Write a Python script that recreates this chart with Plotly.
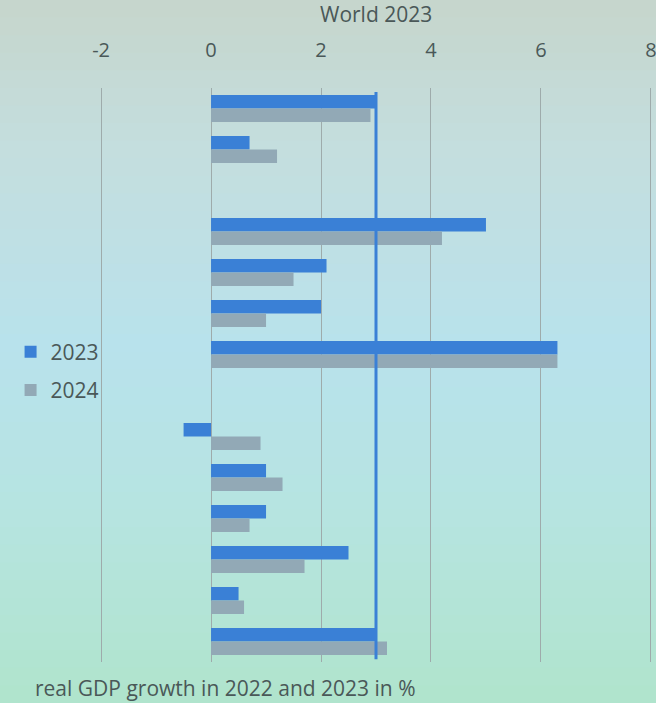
import plotly.graph_objects as go

categories = ["c1", "c2", "gap1", "c3", "c4", "c5", "c6", "gap2",
              "c7", "c8", "c9", "c10", "c11", "c12"]
growth_2023 = [3.0, 0.7, None, 5.0, 2.1, 2.0, 6.3, None,
               -0.5, 1.0, 1.0, 2.5, 0.5, 3.0]
growth_2024 = [2.9, 1.2, None, 4.2, 1.5, 1.0, 6.3, None,
               0.9, 1.3, 0.7, 1.7, 0.6, 3.2]
world_2023 = 3.0
x_ticks = [-2, 0, 2, 4, 6, 8]
x_tick_text = ["-2", "0", "2", "4", "6", "8"]

W, H = 656, 703
ML, MR, MT, MB = 100, 4, 88, 41

BLUE = "#3a80d6"
GREY = "#92a9b6"
TEXT = "#4a5858"
FONT = "Open Sans"

fig = go.Figure()
fig.add_trace(go.Bar(y=categories, x=growth_2023, orientation="h", name="2023",
                     legendgroup="a", marker=dict(color=BLUE, line=dict(width=0))))
fig.add_trace(go.Bar(y=categories, x=growth_2024, orientation="h", name="2024",
                     legendgroup="b", marker=dict(color=GREY, line=dict(width=0))))

# background gradient bands (styling only)
stops = [(0, (198, 214, 204)), (150, (196, 222, 222)), (350, (184, 226, 236)),
         (520, (182, 228, 224)), (703, (176, 228, 204))]
def col_at(py):
    for (a, ca), (b, cb) in zip(stops[:-1], stops[1:]):
        if a <= py <= b:
            t = (py - a) / (b - a)
            return "rgb(%d,%d,%d)" % tuple(round(ca[i] + (cb[i] - ca[i]) * t) for i in range(3))
    return "rgb(%d,%d,%d)" % stops[-1][1]

ph = H - MT - MB
pw = W - ML - MR
shapes = []
n = 40
for i in range(n):
    y0p = H * i / n
    y1p = H * (i + 1) / n + 1
    shapes.append(dict(type="rect", xref="paper", yref="paper", layer="below",
                       x0=-ML / pw - 0.01, x1=1 + MR / pw + 0.01,
                       y0=1 - (y1p - MT) / ph, y1=1 - (y0p - MT) / ph,
                       fillcolor=col_at((y0p + y1p) / 2), line=dict(width=0)))
shapes.append(dict(type="line", xref="x", yref="paper", x0=world_2023, x1=world_2023,
                   y0=0.005, y1=0.993, line=dict(color=BLUE, width=3)))

fig.update_layout(
    width=W, height=H,
    margin=dict(l=ML, r=MR, t=MT, b=MB, autoexpand=False),
    paper_bgcolor=col_at(350), plot_bgcolor="rgba(0,0,0,0)",
    barmode="group", bargap=0.34, bargroupgap=0.0,
    font=dict(family=FONT, color=TEXT, size=20),
    shapes=shapes,
    showlegend=True,
    legend=dict(x=-0.162, y=0.507, xanchor="left", yanchor="middle",
                font=dict(size=21, color=TEXT), bgcolor="rgba(0,0,0,0)",
                traceorder="grouped", itemwidth=30, tracegroupgap=8),
    xaxis=dict(side="top", range=[-2.02, 8.02], tickvals=x_ticks, ticktext=x_tick_text,
               showgrid=True, gridcolor="#9eabab", gridwidth=1,
               zeroline=True, zerolinecolor="#9eabab", zerolinewidth=1,
               ticks="outside", ticklen=22, tickcolor="rgba(0,0,0,0)",
               tickfont=dict(size=20, color=TEXT), showline=False,
               ticklabeloverflow="allow", automargin=False),
    yaxis=dict(type="category", categoryorder="array", categoryarray=categories,
               autorange="reversed", showticklabels=False, showgrid=False,
               zeroline=False, ticks="", automargin=False),
    annotations=[
        dict(text="World 2023", xref="x", yref="paper", x=world_2023, y=1 + (MT - 14) / ph,
             xanchor="center", yanchor="middle", showarrow=False,
             font=dict(size=21, color=TEXT)),
        dict(text="real GDP growth in 2022 and 2023 in %", xref="paper", yref="paper",
             x=(33 - ML) / pw, y=-(688 - (H - MB)) / ph, xanchor="left", yanchor="middle",
             showarrow=False, font=dict(size=21, color=TEXT)),
    ],
)

fig.write_html("out.html", config={"displayModeBar": False},
               post_script="document.body.style.margin='0';")
